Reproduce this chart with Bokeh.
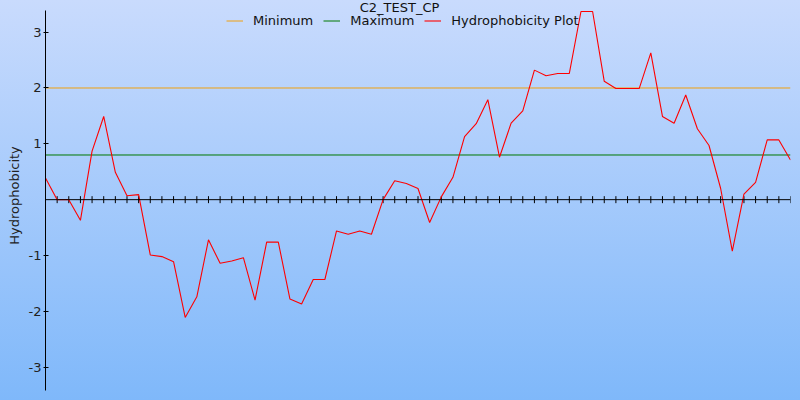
import numpy as np
from bokeh.plotting import figure
from bokeh.models import (Span, FixedTicker, PrintfTickFormatter, Legend, LegendItem,
                          Label, Range1d)
from bokeh.embed import file_html
from bokeh.resources import INLINE

title_text = "C2_TEST_CP"
y_label = "Hydrophobicity"

hydro = [0.39, 0.0, 0.0, -0.37, 0.87, 1.49, 0.49, 0.07, 0.09, -0.99,
         -1.02, -1.11, -2.11, -1.74, -0.72, -1.14, -1.10, -1.04, -1.80, -0.76,
         -0.76, -1.78, -1.87, -1.43, -1.43, -0.56, -0.62, -0.56, -0.62, 0.0,
         0.34, 0.29, 0.20, -0.41, 0.05, 0.40, 1.13, 1.36, 1.79, 0.76,
         1.37, 1.59, 2.32, 2.22, 2.26, 2.26, 3.37, 3.37, 2.12, 1.99,
         1.99, 1.99, 2.63, 1.49, 1.37, 1.875, 1.27, 0.97, 0.20, -0.92,
         0.10, 0.31, 1.07, 1.07, 0.71]
positions = list(range(len(hydro)))
minimum_level = 2.0
maximum_level = 0.8
y_ticks = [-3, -2, -1, 1, 2, 3]
axis_limits = (-3.418, 3.388)      # extent of the vertical axis
view_limits = (-3.418, 3.567)      # visible range (room for title above the axis)

FONT = "DejaVu Sans"

p = figure(width=800, height=400, output_backend="svg", toolbar_location=None,
           x_range=Range1d(positions[0], positions[-1]), y_range=Range1d(*view_limits),
           x_axis_location=None, min_border_left=45, min_border_right=10,
           min_border_top=0, min_border_bottom=10)
p.styles = {"background": "linear-gradient(to bottom, #c9dbfd, #7fb8fa)"}
p.border_fill_color = None
p.background_fill_color = None
p.outline_line_color = None
p.xgrid.visible = False
p.ygrid.visible = False

ax = p.yaxis[0]
ax.bounds = axis_limits
ax.ticker = FixedTicker(ticks=y_ticks)
ax.formatter = PrintfTickFormatter(format="%d")
ax.minor_tick_line_color = None
ax.major_tick_in = 3
ax.major_tick_out = 2
ax.major_label_standoff = 2
ax.major_label_text_font = FONT
ax.major_label_text_font_size = "13px"
ax.major_label_text_color = "#222222"
ax.axis_line_color = "black"
ax.major_tick_line_color = "black"
ax.axis_label = y_label
ax.axis_label_text_font = FONT
ax.axis_label_text_font_size = "13px"
ax.axis_label_text_font_style = "normal"
ax.axis_label_text_color = "#222222"
ax.axis_label_standoff = 4

# horizontal axis through zero with tick marks at each position
p.add_layout(Span(location=0, dimension="width", line_color="black", line_width=1))
p.scatter(x=positions, y=[0] * len(positions), marker="dash", angle=np.pi / 2,
          size=7, line_color="black", line_width=1)

ends = [positions[0], positions[-1]]
r_min = p.line(ends, [minimum_level] * 2, line_color="#f0a010", line_width=1)
r_max = p.line(ends, [maximum_level] * 2, line_color="#007800", line_width=1)
r_hyd = p.line(positions, hydro, line_color="#ff0000", line_width=1.1)

legend = Legend(items=[LegendItem(label="Minimum", renderers=[r_min]),
                       LegendItem(label="Maximum", renderers=[r_max]),
                       LegendItem(label="Hydrophobicity Plot", renderers=[r_hyd])],
                orientation="horizontal", location=(181, 362),
                background_fill_alpha=0, border_line_color=None,
                padding=0, margin=0, spacing=10, label_standoff=10,
                glyph_width=17, glyph_height=15, label_height=15,
                label_text_font=FONT, label_text_font_size="13px",
                label_text_color="#111111")
p.add_layout(legend)

p.add_layout(Label(x=354, y=383, x_units="screen", y_units="screen", text=title_text,
                   text_align="center", text_baseline="alphabetic", text_font=FONT,
                   text_font_size="13px", text_color="#111111"))

open("out.html", "w").write(file_html(p, INLINE))
